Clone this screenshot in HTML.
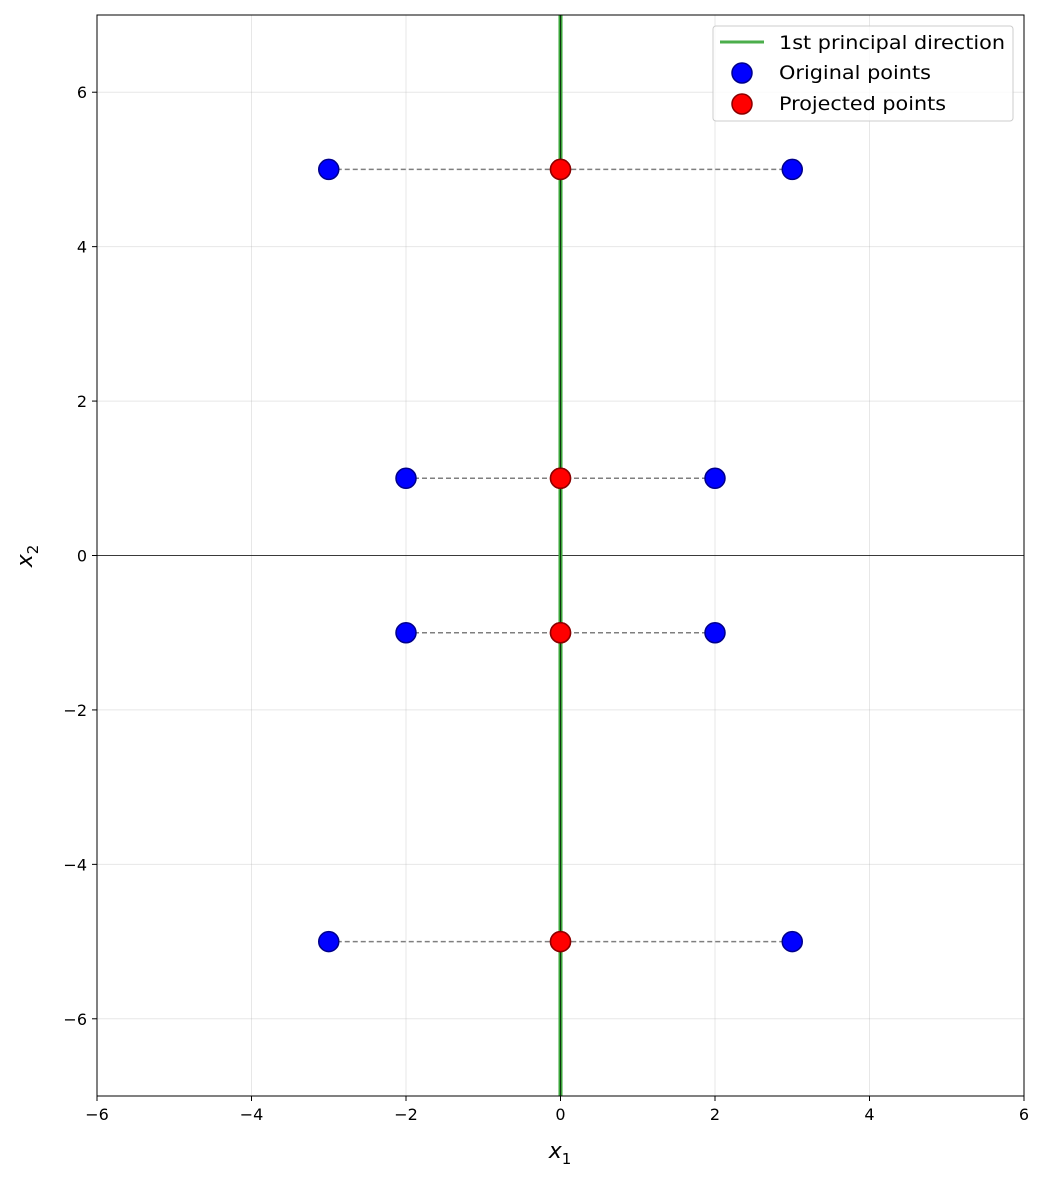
<!DOCTYPE html>
<html><head><meta charset="utf-8"><style>
body{margin:0;background:#fff;}
svg text{font-family:"DejaVu Sans","Liberation Sans",sans-serif;}
</style></head><body>
<svg id="chart" width="1046" height="1183" xmlns="http://www.w3.org/2000/svg">
<rect width="1046" height="1183" fill="#fff"/>
<g id="grid"></g>
<g id="lines"></g>
<g id="marks"></g>
<rect x="97" y="15" width="927" height="1081" fill="none" stroke="#000" stroke-width="1"/>
<g id="ticks"></g>
<text x="560" y="1158" font-size="22" text-anchor="middle" font-style="italic">x<tspan font-size="15" dy="6" font-style="normal">1</tspan></text>
<text transform="translate(32,556) rotate(-90)" font-size="22" text-anchor="middle" font-style="italic">x<tspan font-size="15" dy="6" font-style="normal">2</tspan></text>
<g>
<rect x="713" y="26" width="300" height="95" rx="3" fill="#fff" fill-opacity="0.8" stroke="#ccc"/>
<line x1="720" y1="42" x2="764" y2="42" stroke="#2ca02c" stroke-opacity="0.85" stroke-width="3"/>
<text x="779" y="49" font-size="19" textLength="226" lengthAdjust="spacingAndGlyphs">1st principal direction</text>
<circle cx="742" cy="73" r="10" fill="#0000ff" stroke="#00008b" stroke-width="1.5"/>
<text x="779" y="79" font-size="19" textLength="152" lengthAdjust="spacingAndGlyphs">Original points</text>
<circle cx="742" cy="104" r="10" fill="#ff0000" stroke="#8b0000" stroke-width="1.5"/>
<text x="779" y="110" font-size="19" textLength="167" lengthAdjust="spacingAndGlyphs">Projected points</text>
</g>
</svg>
<script>
const xTicks=[-6,-4,-2,0,2,4,6];
const yTicks=[-6,-4,-2,0,2,4,6];
const origX=[-3,3,-2,2,-2,2,-3,3];
const origY=[5,5,1,1,-1,-1,-5,-5];
const projX=[0,0,0,0,0,0,0,0];
const projY=[5,5,1,1,-1,-1,-5,-5];
const NS="http://www.w3.org/2000/svg";
const L=97,R=1024,T=15,B=1096;
const sx=v=>L+(v+6)/12*(R-L);
const sy=v=>B-(v+7)/14*(B-T);
function mk(p,tag,a){const e=document.createElementNS(NS,tag);for(const k in a)e.setAttribute(k,a[k]);document.getElementById(p).appendChild(e);return e;}
xTicks.forEach(t=>{
 const g=mk('grid','line',{x1:sx(t),x2:sx(t),y1:T,y2:B,stroke:'#b0b0b0','stroke-opacity':0.3});
 
 
 mk('ticks','line',{x1:sx(t),x2:sx(t),y1:B,y2:B+5,stroke:'#000'});
 const tx=mk('ticks','text',{x:sx(t),y:B+24,'font-size':16,'text-anchor':'middle'});
 tx.textContent=(t<0?'\u2212'+(-t):t);
 
 
});
yTicks.forEach(t=>{
 const g=mk('grid','line',{x1:L,x2:R,y1:sy(t),y2:sy(t),stroke:'#b0b0b0','stroke-opacity':0.3});
 
 
 mk('ticks','line',{x1:L-5,x2:L,y1:sy(t),y2:sy(t),stroke:'#000'});
 const tx=mk('ticks','text',{x:L-10,y:sy(t)+6,'font-size':16,'text-anchor':'end'});
 tx.textContent=(t<0?'\u2212'+(-t):t);
 
 
});
const h=mk('lines','line',{x1:L,x2:R,y1:sy(0),y2:sy(0),stroke:'#000','stroke-width':0.8});


const pl=mk('lines','line',{x1:sx(0),x2:sx(0),y1:T,y2:B,stroke:'#3aa63a','stroke-width':4});


const v=mk('lines','line',{x1:sx(0),x2:sx(0),y1:T,y2:B,stroke:'#000','stroke-width':0.7});


origX.forEach((x,i)=>{
 const d=mk('lines','line',{x1:sx(x),y1:sy(origY[i]),x2:sx(projX[i]),y2:sy(projY[i]),stroke:'#000','stroke-opacity':0.5,'stroke-width':1.5,'stroke-dasharray':'5,3'});
 
 
});
origX.forEach((x,i)=>{
 const c=mk('marks','circle',{cx:sx(x),cy:sy(origY[i]),r:10,fill:'#0000ff',stroke:'#00008b','stroke-width':1.5});
 
 
});
projX.forEach((x,i)=>{
 const c=mk('marks','circle',{cx:sx(x),cy:sy(projY[i]),r:10,fill:'#ff0000',stroke:'#8b0000','stroke-width':1.5});
 
 
});
</script>
</body></html>
